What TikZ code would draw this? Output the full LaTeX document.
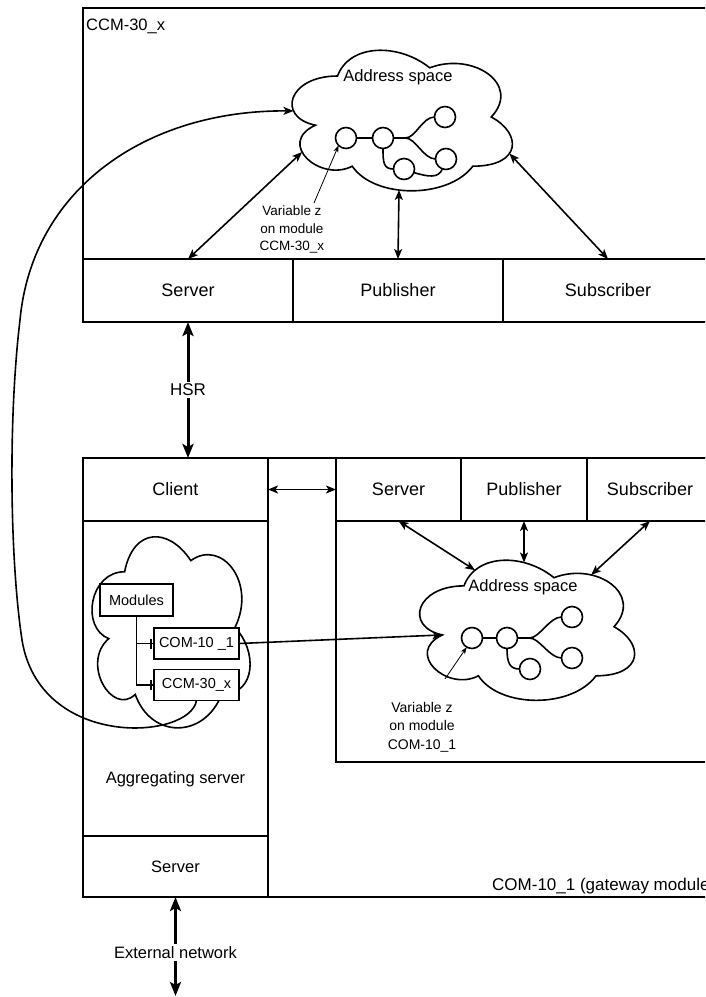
\documentclass[tikz,border=0pt]{standalone}
\usepackage{fontspec}
\setmainfont{Liberation Sans}
\usetikzlibrary{arrows.meta}
\begin{document}
\begin{tikzpicture}[x=1pt,y=-1pt,
  frame/.style={draw,line width=1.6pt,inner sep=0pt,outer sep=0pt},
  cell/.style={draw,line width=1.6pt,inner sep=0pt,outer sep=0pt,fill=white,
    minimum height=63pt,font=\fontsize{18}{21}\selectfont},
  mid/.style={inner sep=0pt,font=\fontsize{16.5}{20}\selectfont},
  small/.style={inner sep=0pt,align=center,font=\fontsize{13.5}{17.5}\selectfont},
  item/.style={draw,line width=1.6pt,fill=white,inner sep=0pt,outer sep=0pt,
    font=\fontsize{14.5}{17}\selectfont},
  dot/.style={draw,line width=1.6pt,circle,minimum size=21pt,inner sep=0pt,
    outer sep=0pt,fill=white},
  link/.style={line width=1.6pt},
  biarr/.style={line width=1.6pt,
    {Stealth[length=10pt,width=8pt,inset=2.5pt]}-{Stealth[length=10pt,width=8pt,inset=2.5pt]}},
  bigarr/.style={line width=3pt,
    {Stealth[length=14pt,width=11pt,inset=3pt]}-{Stealth[length=14pt,width=11pt,inset=3pt]}},
  toarr/.style={line width=1.6pt,-{Stealth[length=10pt,width=8pt,inset=2.5pt]}},
  pointer/.style={line width=0.8pt,-{Stealth[length=7pt,width=5pt,inset=2pt]}},
  cloudpic/.pic={
    \draw[line width=1.6pt,fill=white]
      (0.25,0.25) .. controls (0.05,0.25) and (0,0.5) .. (0.16,0.55)
      .. controls (0,0.66) and (0.18,0.9) .. (0.31,0.8)
      .. controls (0.4,1) and (0.7,1) .. (0.8,0.8)
      .. controls (1,0.8) and (1,0.6) .. (0.875,0.5)
      .. controls (1,0.3) and (0.8,0.1) .. (0.625,0.2)
      .. controls (0.5,0.05) and (0.3,0.05) .. (0.25,0.25) -- cycle;
    \coordinate (-l) at (0.071,0.463);
    \coordinate (-sw) at (0.106,0.714);
    \coordinate (-e) at (0.949,0.723);
    \coordinate (-s) at (0.5,0.945);
    \coordinate (-n) at (0.5,0.107);
    \coordinate (-nw) at (0.296,0.154);
    \coordinate (-ne) at (0.78,0.183);
    \coordinate (-notch) at (0.16,0.55);
  },
]
\clip (0,0) rectangle (705,997);
\fill[white] (0,0) rectangle (705,997);

% ---------- CCM-30_x module ----------
\node[frame,minimum width=637pt,minimum height=314pt] (tbox) at (401.5,165) {};
\node[mid,anchor=west] (ttitle) at (86,26) {CCM-30\_x};
\node[cell,minimum width=210pt] (tsrv) at (188,290.5) {Server};
\node[cell,minimum width=210pt] (tpub) at (398,290.5) {Publisher};
\node[cell,minimum width=210pt] (tsub) at (608,290.5) {Subscriber};

\pic[xscale=246,yscale=164] (tc) at (276,35) {cloudpic};
\node[mid] (taddr) at (398,77) {Address space};

\node[dot] (t1) at (346,138) {};
\node[dot] (t2) at (383,138) {};
\node[dot] (t3) at (445,117) {};
\node[dot] (t4) at (446,159) {};
\node[dot] (t5) at (404,169) {};
\draw[link] (t1) -- (t2);
\draw[link] (t2.east) -- ++(12,0) .. controls +(10,0) and +(-12,0) .. (t3.west);
\draw[link] (t2.east) -- ++(12,0) .. controls +(10,0) and +(-12,0) .. (t4.west);
\draw[link] (t2.south) .. controls +(0,14) and +(-10,0) .. (t5.west);
\draw[link] (t5.-20) .. controls +(14,4) and +(-4,10) .. (t4.-110);

\node[small] (tvar) at (292,229.5) {Variable z\\on module\\CCM-30\_x};
\coordinate (tptr) at (314,203);
\draw[pointer] (tptr) -- (t1.-135);

\draw[biarr] (tsrv.north) -- (tc-sw);
\draw[biarr] (tpub.north) -- (tc-s);
\draw[biarr] (tsub.north) -- (tc-e);

% ---------- COM-10_1 gateway module ----------
\node[frame,minimum width=637pt,minimum height=439pt] (obox) at (401.5,677.5) {};
\node[frame,minimum width=185pt,minimum height=439pt] (ocol) at (175.5,677.5) {};
\node[cell,minimum width=185pt] (cli) at (175.5,489.5) {Client};
\node[cell,minimum width=185pt,minimum height=61pt,font=\fontsize{16.5}{20}\selectfont] (osrv) at (175.5,866.5) {Server};
\node[mid] (agg) at (175.5,779) {Aggregating server};
\node[mid,anchor=west,font=\fontsize{17}{20}\selectfont] (gw) at (492,886) {COM-10\_1 (gateway module)};

\node[frame,minimum width=384pt,minimum height=304pt] (ibox) at (528,610) {};
\node[cell,minimum width=125pt] (isrv) at (398.5,489.5) {Server};
\node[cell,minimum width=126pt] (ipub) at (524,489.5) {Publisher};
\node[cell,minimum width=126pt] (isub) at (650,489.5) {Subscriber};

\pic[xscale=240,yscale=163.5] (bc) at (404,545) {cloudpic};
\node[mid] (baddr) at (523,587) {Address space};

\node[dot] (b1) at (472,638) {};
\node[dot] (b2) at (507,638) {};
\node[dot] (b3) at (572,617) {};
\node[dot] (b4) at (572,658) {};
\node[dot] (b5) at (530,669) {};
\draw[link] (b1) -- (b2);
\draw[link] (b2.east) -- ++(12,0) .. controls +(10,0) and +(-12,0) .. (b3.west);
\draw[link] (b2.east) -- ++(12,0) .. controls +(10,0) and +(-12,0) .. (b4.west);
\draw[link] (b2.south) .. controls +(0,14) and +(-10,0) .. (b5.west);

\node[small,font=\fontsize{14}{18.5}\selectfont] (bvar) at (422,727) {Variable z\\on module\\COM-10\_1};
\coordinate (bptr) at (445,679);
\draw[pointer] (bptr) -- (b1.-120);

\draw[biarr] (isrv.south) -- (bc-nw);
\draw[biarr] (ipub.south) -- (bc-n);
\draw[biarr] (isub.south) -- (bc-ne);

% aggregating server contents
\pic[xscale=176.5,yscale=223] (lc) at (80.5,516) {cloudpic};
\node[item,minimum width=73pt,minimum height=32pt] (mods) at (136.5,600) {Modules};
\node[item,minimum width=85pt,minimum height=31pt] (com) at (196.5,643.5) {COM-10 \_1};
\node[item,minimum width=85pt,minimum height=31pt] (ccm) at (196.5,685) {CCM-30\_x};
\draw[link] (mods.south) |- (com.west);
\draw[link] (mods.south) |- (ccm.west);
\draw[link] ([xshift=-3pt]com.west) ++(0,-5) -- ++(0,10);
\draw[link] ([xshift=-3pt]ccm.west) ++(0,-5) -- ++(0,10);

% links between the modules
\draw[biarr] (cli.east) -- (cli.east -| ibox.west);
\draw[toarr] (com.east) -- (bc-notch);
\draw[toarr] (ccm.south) .. controls (190,740) and (40,750) .. (22,640)
  .. controls (10,560) and (8,420) .. (20,320)
  .. controls (32,190) and (145,110) .. (tc-l);

\draw[bigarr] (tsrv.south) -- node[fill=white,inner sep=2pt,font=\fontsize{17}{20}\selectfont] (hsr) {HSR} (tsrv.south |- obox.north);
\coordinate (ext) at (175.5,996);
\draw[bigarr] (osrv.south) -- node[fill=white,inner sep=2pt,pos=0.56,font=\fontsize{16.5}{20}\selectfont] (extl) {External network} (ext);
\end{tikzpicture}
\end{document}
